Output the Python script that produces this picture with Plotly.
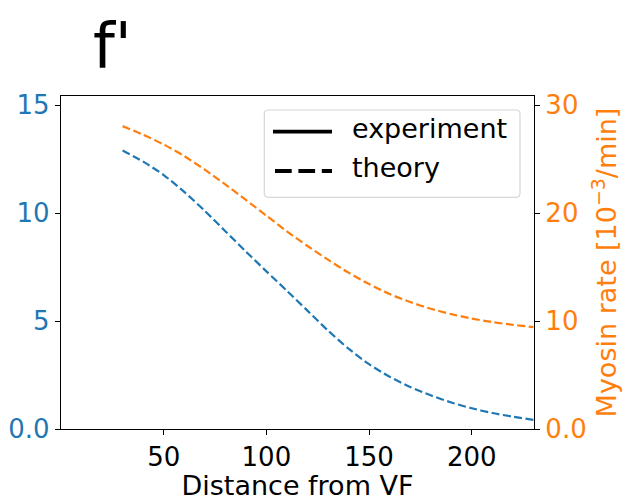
import plotly.graph_objects as go

# Distance from the ventral furrow (theory curves)
distance = [30, 40, 50, 60, 70, 80, 90, 100, 110, 120, 130, 140, 150, 160,
            170, 180, 190, 200, 210, 220, 230]

# Left axis quantity (theory)
theory_left = [12.9, 12.38, 11.76, 10.98, 10.1, 9.16, 8.22, 7.3, 6.4, 5.48,
               4.56, 3.72, 3.0, 2.42, 1.95, 1.56, 1.23, 0.96, 0.74, 0.57, 0.42]

# Myosin rate [10^-3/min] (theory)
theory_myosin = [28.05, 27.25, 26.35, 25.28, 24.02, 22.65, 21.22, 19.76, 18.3,
                 16.95, 15.68, 14.48, 13.42, 12.5, 11.76, 11.14, 10.64, 10.23,
                 9.9, 9.65, 9.44]

x_ticks = [50, 100, 150, 200]
left_ticks = [0, 5, 10, 15]
left_ticktext = ["0.0", "5", "10", "15"]
right_ticks = [0, 10, 20, 30]
right_ticktext = ["0.0", "10", "20", "30"]

legend_labels = ["experiment", "theory"]

BLUE = "#1f77b4"
ORANGE = "#ff7f0e"
FONT = "DejaVu Sans"
TICK_SIZE = 26
LABEL_SIZE = 27

fig = go.Figure()

fig.add_trace(go.Scatter(x=distance, y=theory_left, mode="lines",
                         line=dict(color=BLUE, width=2.2, dash="8px,3.5px",
                                   shape="spline", smoothing=0.8),
                         showlegend=False, hoverinfo="skip"))
fig.add_trace(go.Scatter(x=distance, y=theory_myosin, mode="lines", yaxis="y2",
                         line=dict(color=ORANGE, width=2.2, dash="8px,3.5px",
                                   shape="spline", smoothing=0.8),
                         showlegend=False, hoverinfo="skip"))

# Line-style key (upper right of the axes), in axes-fraction coordinates
W, H = 473.0, 333.0          # plot area size in px
def fx(px):                  # px offset from plot left -> paper x
    return px / W
def fy(px):                  # px offset from plot top -> paper y
    return 1 - px / H

bx0, bx1, by0, by1 = fx(203.3), fx(459), fy(14), fy(101.3)
rx, ry = fx(4), 4 / H
box_path = (f"M {bx0 + rx},{by0} L {bx1 - rx},{by0} Q {bx1},{by0} {bx1},{by0 - ry} "
            f"L {bx1},{by1 + ry} Q {bx1},{by1} {bx1 - rx},{by1} "
            f"L {bx0 + rx},{by1} Q {bx0},{by1} {bx0},{by1 + ry} "
            f"L {bx0},{by0 - ry} Q {bx0},{by0} {bx0 + rx},{by0} Z")

shapes = [
    dict(type="path", xref="paper", yref="paper", path=box_path,
         line=dict(color="#d6d6d6", width=1.2), fillcolor="rgba(255,255,255,0.8)",
         layer="above"),
    dict(type="line", xref="paper", yref="paper",
         x0=fx(212), x1=fx(271), y0=fy(35.7), y1=fy(35.7),
         line=dict(color="black", width=3.8), layer="above"),
    dict(type="line", xref="paper", yref="paper",
         x0=fx(214), x1=fx(271), y0=fy(75), y1=fy(75),
         line=dict(color="black", width=3.8, dash="16.7px,6.7px"), layer="above"),
]

annotations = [
    dict(text=legend_labels[0], xref="paper", yref="paper",
         x=fx(289), y=fy(32.5), xanchor="left", yanchor="middle",
         showarrow=False, font=dict(family=FONT, size=LABEL_SIZE, color="black")),
    dict(text=legend_labels[1], xref="paper", yref="paper",
         x=fx(289), y=fy(71.5), xanchor="left", yanchor="middle",
         showarrow=False, font=dict(family=FONT, size=LABEL_SIZE, color="black")),
    dict(text="f'", xref="paper", yref="paper",
         x=fx(30), y=fy(-50.5), xanchor="left", yanchor="middle",
         showarrow=False, font=dict(family=FONT, size=62, color="black")),
]

axis_common = dict(ticks="outside", ticklen=5, tickwidth=1.2, tickcolor="black",
                   showline=True, linecolor="black", linewidth=1.3,
                   showgrid=False, zeroline=False, automargin=False)

fig.update_layout(
    width=631, height=501,
    margin=dict(l=61, r=97, t=96, b=72),
    paper_bgcolor="white", plot_bgcolor="white",
    font=dict(family=FONT, size=TICK_SIZE, color="black"),
    showlegend=False,
    xaxis=dict(range=[0, 230.3], tickvals=x_ticks, mirror=True,
               title=dict(text="Distance from VF", standoff=2,
                          font=dict(size=LABEL_SIZE, color="black")),
               tickfont=dict(size=TICK_SIZE, color="black"), **axis_common),
    yaxis=dict(range=[0, 15.42], tickvals=left_ticks, ticktext=left_ticktext,
               tickfont=dict(color=BLUE, size=TICK_SIZE), **axis_common),
    yaxis2=dict(range=[0, 30.84], tickvals=right_ticks, ticktext=right_ticktext,
                overlaying="y", side="right",
                tickfont=dict(color=ORANGE, size=TICK_SIZE),
                title=dict(text="Myosin rate [10<sup>\u22123</sup>/min]",
                           font=dict(color=ORANGE, size=LABEL_SIZE), standoff=6),
                **axis_common),
    shapes=shapes,
    annotations=annotations,
)

fig.write_html("out.html")
